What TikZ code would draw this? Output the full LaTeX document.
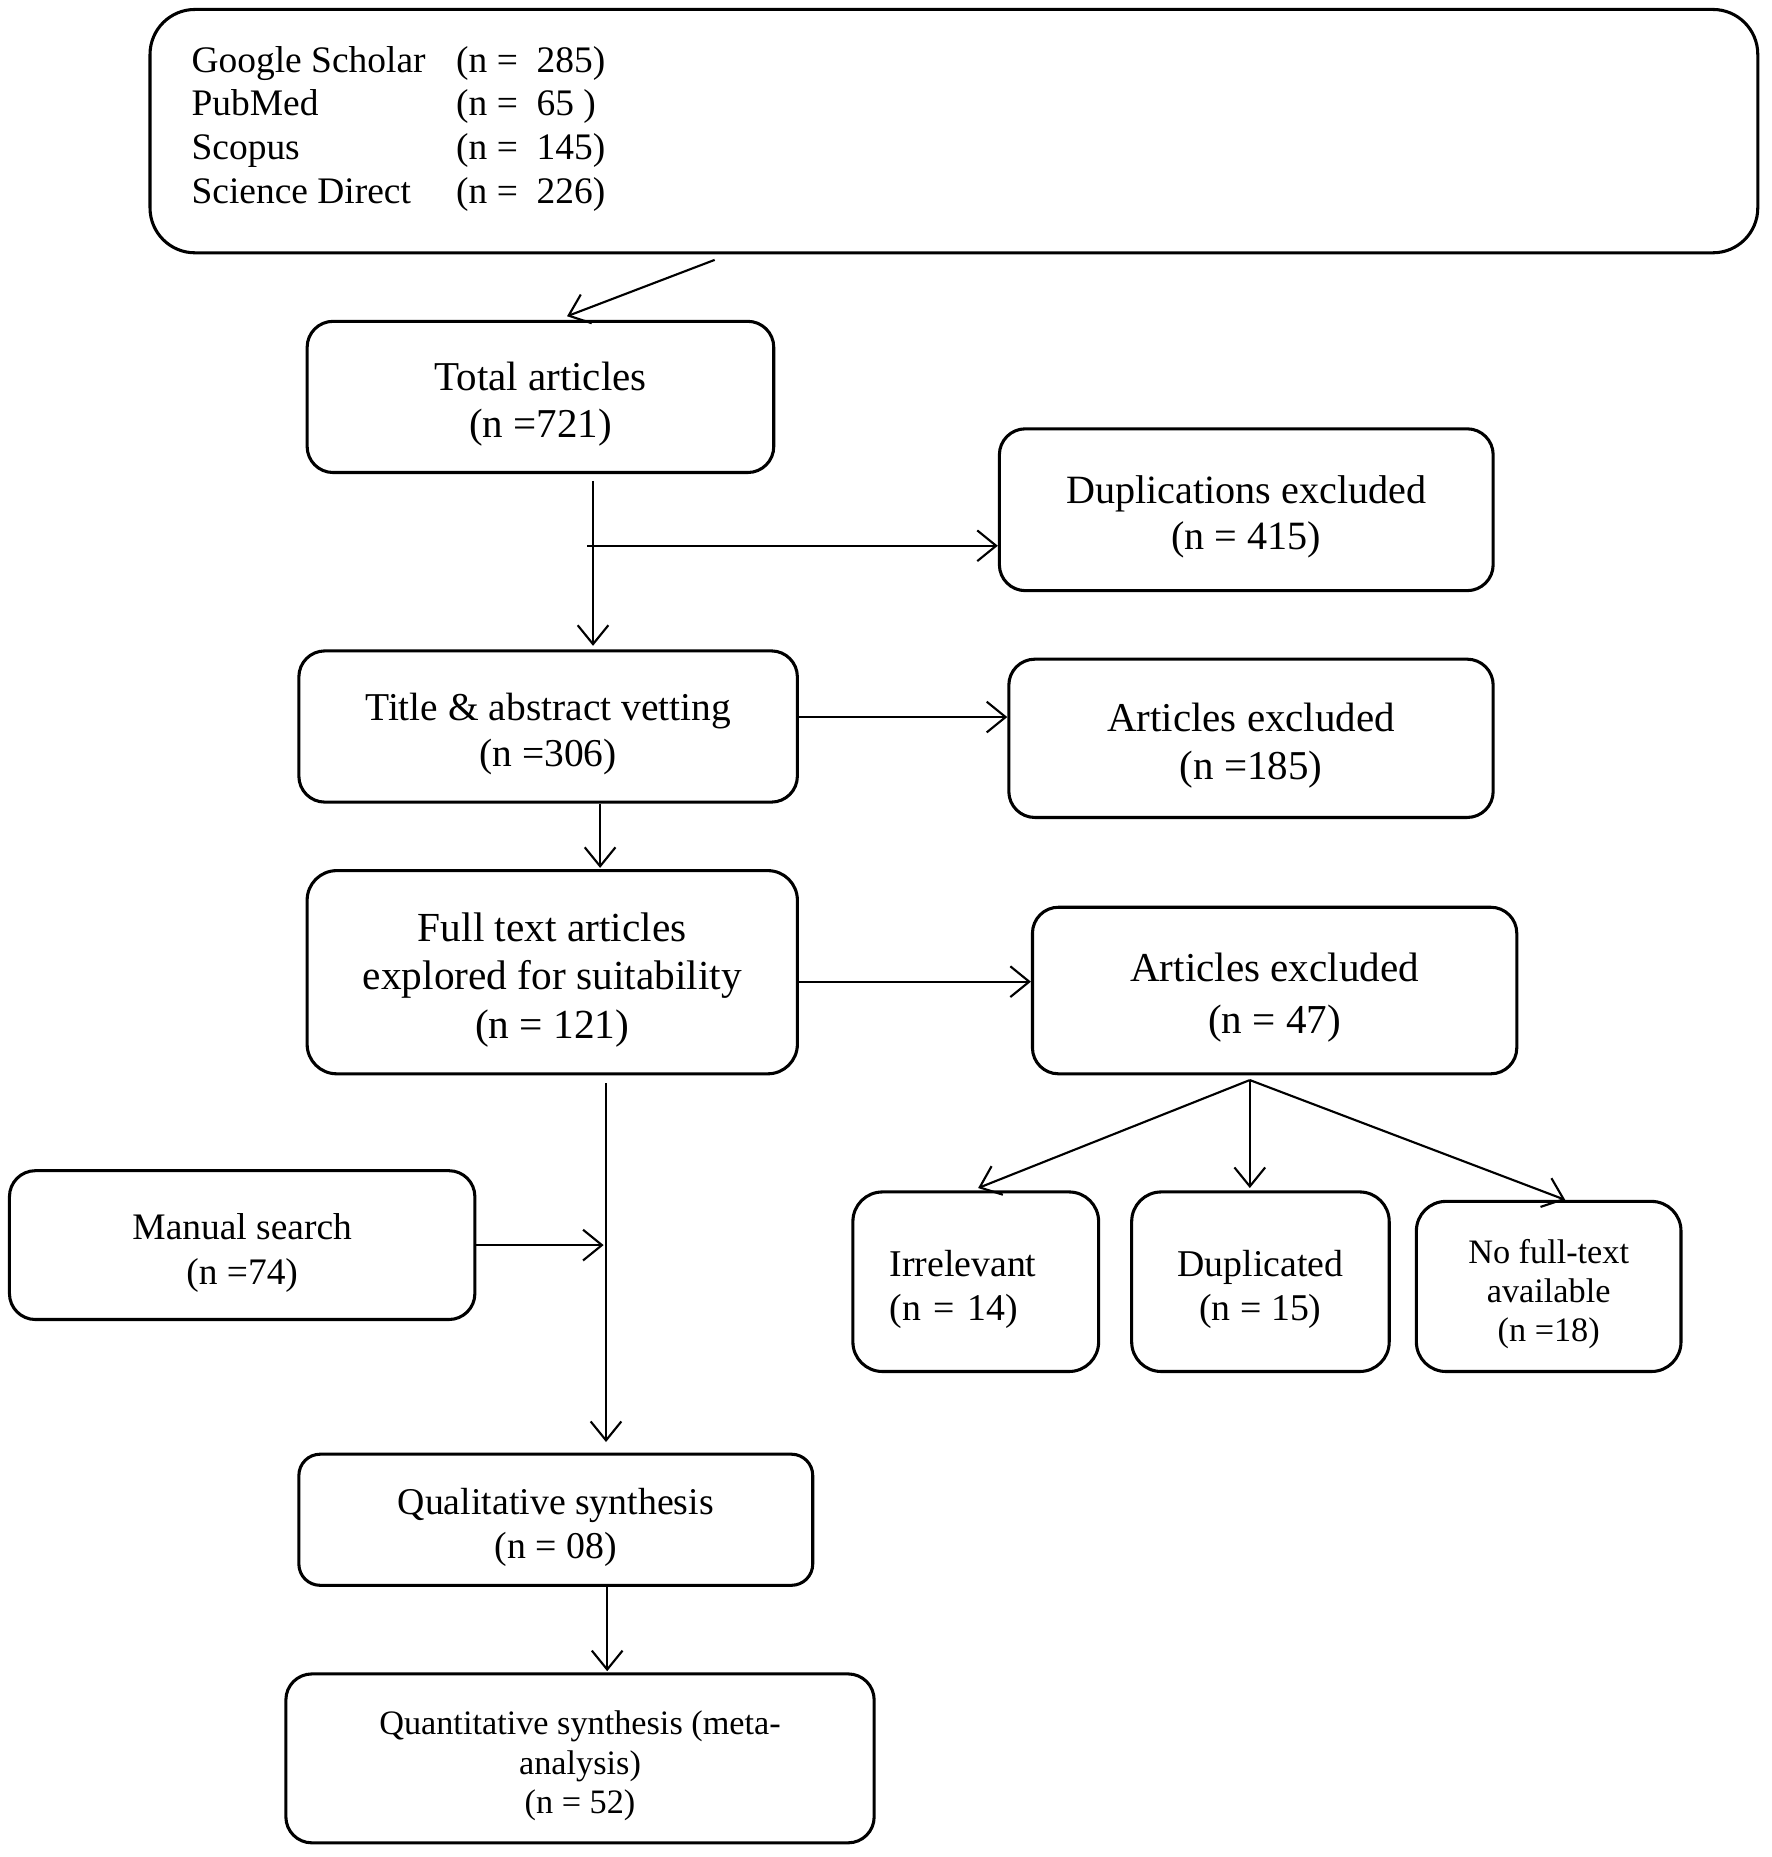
\documentclass[tikz,border=0pt]{standalone}
\usepackage{fontspec}
\setmainfont{Liberation Serif}
\usetikzlibrary{arrows.meta}
\newcommand{\dn}{\rule{0pt}{\dimexpr\fontcharht\font`l+14pt\relax}}
\begin{document}
\begin{tikzpicture}[x=1pt,y=-1pt,
  box/.style={draw, line width=2.6pt, rounded corners=22pt, align=center, inner sep=0pt},
  arr/.style={line width=1.8pt, -{Straight Barb[length=16pt,width=26pt,line width=1.8pt]}}
]
\fill[white] (0,0) rectangle (1500,1572);
\useasboundingbox (0,0) rectangle (1500,1572);

% source box
\node[box, rounded corners=38pt, minimum width=1361, minimum height=206] (top) at (807.5,111) {};
\node[anchor=base west, inner sep=0pt, font=\fontsize{31.7}{37}\selectfont] (src) at (162,61)
  {\begin{tabular}[t]{@{}p{224pt}@{}l@{}}
   Google Scholar & (n =~ 285)\\
   PubMed & (n =~ 65 )\\
   Scopus & (n =~ 145)\\
   Science Direct & (n =~ 226)
   \end{tabular}};

\node[box, font=\fontsize{34.7}{40}\selectfont, minimum width=395, minimum height=128] (total) at (457.5,336) {\dn Total articles\\(n =721)};
\node[box, font=\fontsize{34}{39}\selectfont, minimum width=418, minimum height=137] (dup415) at (1055,431.5) {\dn Duplications excluded\\(n = 415)};
\node[box, font=\fontsize{33.4}{39}\selectfont, minimum width=422, minimum height=128] (title) at (464,615) {\dn Title \& abstract vetting\\(n =306)};
\node[box, font=\fontsize{34.7}{41}\selectfont, minimum width=410, minimum height=134] (art185) at (1059,625) {\dn Articles excluded\\(n =185)};
\node[box, rounded corners=25pt, font=\fontsize{35}{41}\selectfont, minimum width=415, minimum height=172] (full) at (467.5,823) {\dn Full text articles\\explored for suitability\\(n = 121)};
\node[box, font=\fontsize{34.8}{44}\selectfont, minimum width=410, minimum height=141] (art47) at (1079,838.5) {\dn Articles excluded\\(n = 47)};
\node[box, font=\fontsize{31.7}{38}\selectfont, minimum width=394, minimum height=126] (manual) at (205,1054) {\dn Manual search\\(n =74)};
\node[box, rounded corners=25pt, align=left, text width=146pt, inner xsep=31pt, font=\fontsize{32}{37}\selectfont, minimum height=152] (irr) at (826,1085) {\dn Irrelevant\\(n = 14)};
\node[box, rounded corners=25pt, font=\fontsize{32}{37}\selectfont, minimum width=218, minimum height=152] (dup15) at (1067,1085) {\dn Duplicated\\(n = 15)};
\node[box, rounded corners=25pt, font=\fontsize{29}{33}\selectfont, minimum width=224, minimum height=144] (nofull) at (1311,1089) {\dn No full-text\\available\\(n =18)};
\node[box, rounded corners=18pt, font=\fontsize{32}{37}\selectfont, minimum width=435, minimum height=111] (qual) at (470.5,1286.5) {\dn Qualitative synthesis\\(n = 08)};
\node[box, font=\fontsize{29}{33.5}\selectfont, minimum width=498, minimum height=143] (quant) at (491,1488.5) {\dn Quantitative synthesis (meta-\\analysis)\\(n = 52)};

% connectors
\coordinate (c1) at (605,220);
\draw[arr] (c1) -- ([xshift=22.5pt,yshift=3pt]total.north);
\coordinate (v1) at (502,407);
\draw[arr, shorten >=3pt] (v1) -- (v1 |- title.north);
\coordinate (b1) at (497,462);
\draw[arr] (b1) -- (b1 -| dup415.west);
\coordinate (t1) at ([yshift=8pt]title.east);
\draw[arr] (t1) -- (t1 -| art185.west);
\coordinate (t2) at ([xshift=44pt]title.south);
\draw[arr, shorten >=1pt] (t2) -- (t2 |- full.north);
\coordinate (f1) at ([yshift=-8pt]full.east);
\draw[arr] (f1) -- (f1 -| art47.west);
\coordinate (v3) at (513,917);
\draw[arr, shorten >=9pt] (v3) -- (v3 |- qual.north);
\draw[arr, shorten >=2pt] (manual.east) -- (manual.east -| v3);
\coordinate (q1) at ([xshift=43.5pt]qual.south);
\draw[arr, shorten >=1pt] (q1) -- (q1 |- quant.north);
\coordinate (br) at ([xshift=-21pt,yshift=-4pt]art47.south);
\draw[arr] (br) -- ([xshift=2pt,yshift=2pt]irr.north);
\draw[arr, shorten >=2pt] (br) -- (br |- dup15.north);
\draw[arr] (br) -- ([xshift=14pt]nofull.north);
\end{tikzpicture}
\end{document}
